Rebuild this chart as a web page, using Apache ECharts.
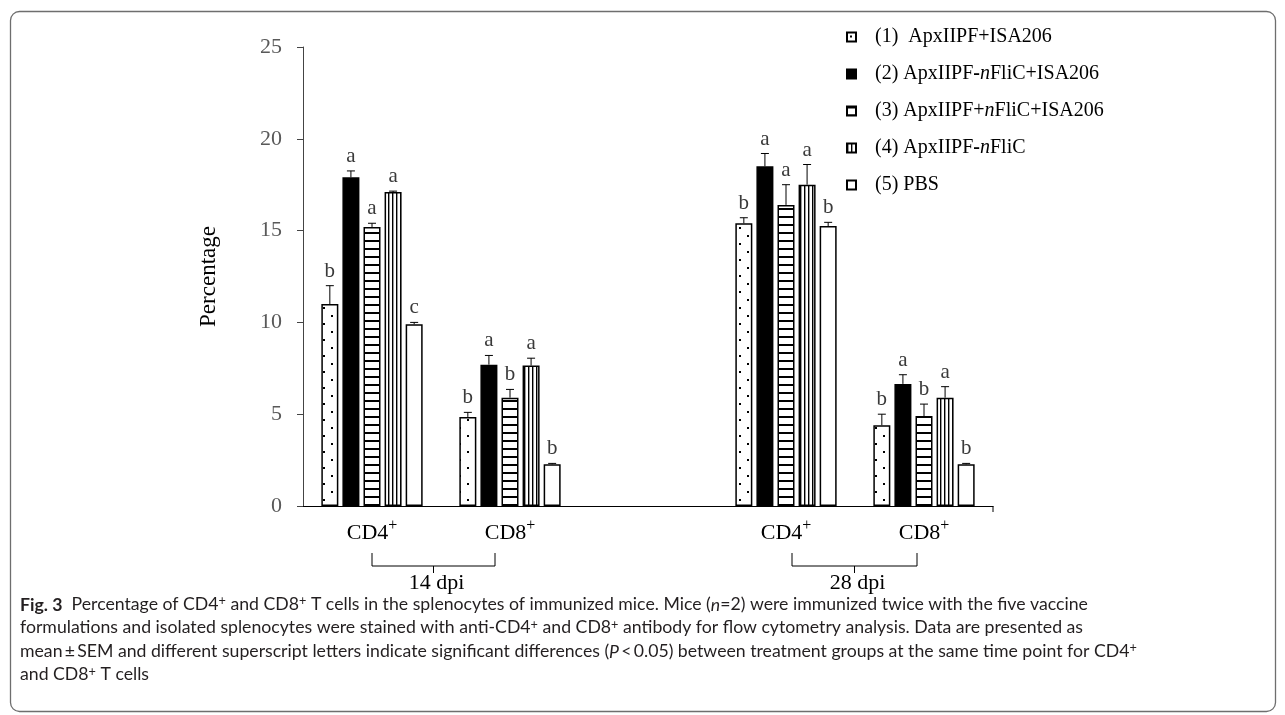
<!DOCTYPE html>
<html><head><meta charset="utf-8">
<script src="https://cdn.jsdelivr.net/npm/echarts/dist/echarts.min.js"></script>
<style>html,body{margin:0;padding:0;background:#fff;}#c{width:1285px;height:715px;}</style>
</head><body><div id="c"></div>
<script>
// ---- data ----
const categories = ['CD4+', 'CD8+', '', 'CD4+', 'CD8+'];
const groupLabels = ['14 dpi', '28 dpi'];
const seriesNames = ['(1)  ApxIIPF+ISA206', '(2) ApxIIPF-nFliC+ISA206', '(3) ApxIIPF+nFliC+ISA206', '(4) ApxIIPF-nFliC', '(5) PBS'];
const valuesS1 = [11.0, 4.85, null, 15.4, 4.4];
const valuesS2 = [17.9, 7.7, null, 18.5, 6.65];
const valuesS3 = [15.2, 5.9, null, 16.4, 4.9];
const valuesS4 = [17.1, 7.65, null, 17.5, 5.9];
const valuesS5 = [9.9, 2.27, null, 15.25, 2.27];
const semS1 = [1.0, 0.25, null, 0.3, 0.6];
const semS2 = [0.35, 0.5, null, 0.7, 0.5];
const semS3 = [0.2, 0.45, null, 1.1, 0.65];
const semS4 = [0.05, 0.4, null, 1.1, 0.6];
const semS5 = [0.1, 0.05, null, 0.2, 0.05];
const lettersS1 = ['b', 'b', '', 'b', 'b'];
const lettersS2 = ['a', 'a', '', 'a', 'a'];
const lettersS3 = ['a', 'b', '', 'a', 'b'];
const lettersS4 = ['a', 'a', '', 'a', 'a'];
const lettersS5 = ['c', 'b', '', 'b', 'b'];
const yTicks = [0, 5, 10, 15, 20, 25];
const yAxisTitle = 'Percentage';
const captionLines = [
  '{b|Fig. 3}  Percentage of CD4{s|+} and CD8{s|+} T cells in the splenocytes of immunized mice. Mice ({i|n}=2) were immunized twice with the five vaccine',
  'formulations and isolated splenocytes were stained with anti-CD4{s|+} and CD8{s|+} antibody for flow cytometry analysis. Data are presented as',
  'mean\u2009\u00b1\u2009SEM and different superscript letters indicate significant differences ({i|P}\u2009<\u20090.05) between treatment groups at the same time point for CD4{s|+}',
  'and CD8{s|+} T cells'
];

const allValues = [valuesS1, valuesS2, valuesS3, valuesS4, valuesS5];
const allSem = [semS1, semS2, semS3, semS4, semS5];
const allLetters = [lettersS1, lettersS2, lettersS3, lettersS4, lettersS5];

// ---- styles ----
const SERIF = '"Liberation Serif", "Times New Roman", serif';
const SANS = 'Lato, "Noto Sans", sans-serif';
function pat(w, h, draw) {
  const c = document.createElement('canvas'); c.width = w; c.height = h;
  const g = c.getContext('2d'); g.fillStyle = '#fff'; g.fillRect(0, 0, w, h);
  g.fillStyle = '#000'; draw(g); return { image: c, repeat: 'repeat' };
}
const fills = [
  pat(16, 16, g => { g.fillRect(3, 3, 2, 2); g.fillRect(11, 11, 2, 2); }),
  '#000',
  pat(8, 8, g => { g.fillRect(0, 0, 8, 2); }),
  pat(4, 4, g => { g.fillRect(0, 0, 1.4, 4); }),
  '#fff'
];
const BAR_W = 17, BAR_GAP = 0.24;

const chart = echarts.init(document.getElementById('c'), null, { renderer: 'canvas' });

const barSeries = seriesNames.map((nm, i) => ({
  name: nm, type: 'bar', barWidth: BAR_W, barGap: (BAR_GAP * 100) + '%',
  data: allValues[i].map(v => v == null ? '-' : v),
  itemStyle: { color: fills[i], borderColor: '#000', borderWidth: 1.5 },
  emphasis: { disabled: true }, animation: false, z: 2
}));

const errSeries = seriesNames.map((nm, i) => ({
  name: 'err' + i, type: 'custom', z: 3, animation: false, silent: true,
  data: allValues[i].map((v, k) => v == null ? null : [k, v, allSem[i][k]]).filter(d => d),
  renderItem: function (params, api) {
    const k = api.value(0), v = api.value(1), e = api.value(2);
    const pitch = BAR_W * (1 + BAR_GAP);
    const base = api.coord([k, v]);
    const top = api.coord([k, v + e]);
    const x = base[0] + (i - 2) * pitch;
    return {
      type: 'group', children: [
        { type: 'line', shape: { x1: x, y1: base[1], x2: x, y2: top[1] }, style: { stroke: '#000', lineWidth: 1 } },
        { type: 'line', shape: { x1: x - 4, y1: top[1], x2: x + 4, y2: top[1] }, style: { stroke: '#000', lineWidth: 1 } },
        { type: 'text', style: { text: allLetters[i][k], x: x, y: top[1] - 4, align: 'center', verticalAlign: 'bottom',
          fontFamily: SERIF, fontSize: 21, fill: '#3a3a3a' } }
      ]
    };
  }
}));

chart.setOption({
  animation: false,
  backgroundColor: '#fff',
  grid: { left: 303, right: 292, top: 47, bottom: 209, containLabel: false },
  legend: {
    data: seriesNames, orient: 'vertical', left: 841, top: 21,
    itemWidth: 9, itemHeight: 9, itemGap: 15, icon: 'rect',
    selectedMode: false,
    formatter: n => n.replace(/-n/, '{h|-}{i|n}').replace(/\+n/, '+{i|n}'),
    textStyle: {
      fontFamily: SERIF, fontSize: 20, color: '#000', lineHeight: 22, padding: [0, 0, 0, 14],
      rich: {
        i: { fontFamily: SERIF, fontSize: 20, fontStyle: 'italic', color: '#000', lineHeight: 22 },
        h: { fontFamily: SERIF, fontSize: 20, fontWeight: 'bold', color: '#000', lineHeight: 22 }
      }
    }
  },
  xAxis: {
    type: 'category', data: categories,
    axisLine: { lineStyle: { color: '#000', width: 1 } },
    axisTick: { alignWithLabel: true, length: 6, interval: 0, lineStyle: { color: '#000' } },
    splitLine: { show: false },
    axisLabel: {
      interval: 0, margin: 12,
      formatter: v => v ? '{n|' + v.replace('+', '') + '}{s|+}' : '',
      rich: {
        n: { fontFamily: SERIF, fontSize: 22, color: '#000', lineHeight: 26, verticalAlign: 'bottom' },
        s: { fontFamily: SERIF, fontSize: 16, color: '#000', lineHeight: 12, verticalAlign: 'top' }
      }
    }
  },
  yAxis: {
    type: 'value', min: yTicks[0], max: yTicks[yTicks.length - 1], interval: yTicks[1] - yTicks[0],
    name: yAxisTitle, nameLocation: 'middle', nameGap: 83, nameRotate: 90,
    nameTextStyle: { fontFamily: SERIF, fontSize: 23, color: '#000' },
    axisLine: { show: true, lineStyle: { color: '#444', width: 1 } },
    axisTick: { show: true, length: 6, lineStyle: { color: '#444' } },
    splitLine: { show: false },
    axisLabel: { margin: 21, fontFamily: SERIF, fontSize: 22, color: '#595959' }
  },
  series: barSeries.concat(errSeries)
});

// ---- annotations: brackets, end tick, frame, caption ----
const px = k => chart.convertToPixel({ xAxisIndex: 0 }, k);
const y0 = chart.convertToPixel({ yAxisIndex: 0 }, 0);
const grid = chart.getModel().getComponent('grid').coordinateSystem.getRect();
const brackets = [[px(0), px(1) - 15, groupLabels[0]], [px(3) + 6, px(4) - 7, groupLabels[1]]];
const g = [];
brackets.forEach(([a, b, lab]) => {
  const yt = y0 + 47, yh = y0 + 60, ym = (a + b) / 2;
  g.push({ type: 'polyline', shape: { points: [[a, yt], [a, yh], [b, yh], [b, yt]] }, style: { stroke: '#000', lineWidth: 1, fill: null } });
  g.push({ type: 'line', shape: { x1: ym, y1: yh, x2: ym, y2: yh + 7 }, style: { stroke: '#000', lineWidth: 1 } });
  g.push({ type: 'text', style: { text: lab, x: ym + 3, y: y0 + 77, align: 'center', verticalAlign: 'middle', fontFamily: SERIF, fontSize: 22, fill: '#000' } });
});
const xEnd = grid.x + grid.width;
g.push({ type: 'line', shape: { x1: xEnd, y1: y0, x2: xEnd, y2: y0 + 6 }, style: { stroke: '#000', lineWidth: 1 } });
g.push({ type: 'rect', shape: { x: 10.5, y: 11.5, width: 1265, height: 700, r: 9 }, style: { fill: null, stroke: '#6e6e6e', lineWidth: 1.3 }, z: -1 });

// caption font size fitted to the first line width
const ctx = document.createElement('canvas').getContext('2d');
ctx.font = '16px Lato';
const plain1 = captionLines[0].replace(/\{\w\|([^}]*)\}/g, '$1');
const capSize = 16 * 1068 / ctx.measureText(plain1).width * 1.006;
const capTops = [604, 627.5, 651, 674.5];
captionLines.forEach((ln, k) => {
  g.push({
    type: 'text', style: {
      text: ln, x: 20, y: capTops[k], verticalAlign: 'middle', align: 'left',
      fontFamily: SANS, fontSize: capSize, fill: '#231f20',
      rich: {
        b: { fontFamily: SANS, fontSize: capSize, fontWeight: 'bold', fill: '#231f20', lineHeight: 20, verticalAlign: 'bottom' },
        i: { fontFamily: SANS, fontSize: capSize, fontStyle: 'italic', fill: '#231f20', lineHeight: 20, verticalAlign: 'bottom' },
        s: { fontFamily: SANS, fontSize: capSize * 0.72, fill: '#231f20', lineHeight: 11, verticalAlign: 'top' }
      }
    }
  });
});
chart.setOption({ graphic: { elements: g } });
</script></body></html>
